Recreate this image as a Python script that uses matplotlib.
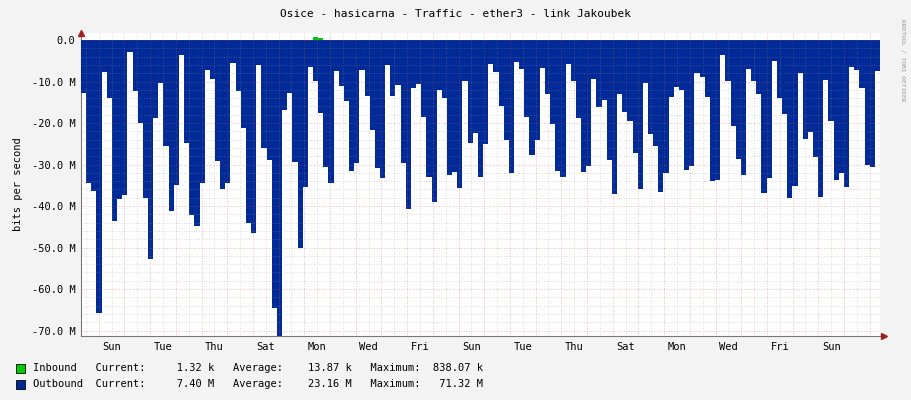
import numpy as np
import matplotlib
matplotlib.use('Agg')
import matplotlib.pyplot as plt

# outbound traffic (Mbit/s, negative = drawn below zero), one value per step
outbound = [-12.7,-34.4,-36.3,-65.7,-7.8,-14,-43.5,-38.3,-37.3,-2.9,-12.3,-19.9,-38,-52.7,-18.8,-10.4,
            -25.5,-41.1,-34.9,-3.5,-24.8,-42.1,-44.7,-34.4,-7.1,-9.4,-29.1,-35.8,-34.4,-5.5,-12.2,-21.1,
            -44,-46.4,-5.9,-25.9,-29,-64.6,-71.3,
            -16.9,-12.7,-29.3,-50,-35.3,-6.4,-9.8,-17.5,-30.5,-34.4,-7.5,-11.1,-14.6,-31.5,-29.6,-7.2,
            -13.5,-21.7,-30.8,-33.3,-6,-13.4,-10.8,-29.6,-40.8,-11.5,-10.6,-18.5,-32.9,-39.1,-12.1,-14,
            -32.4,-31.8,-35.7,-9.9,-24.9,-22.4,-33.1,
            -25,-5.8,-7.6,-15.8,-24.1,-32,-5.4,-6.9,-18.5,-27.6,-24.1,-6.8,-12.9,-20.2,-31.5,-33.1,-5.8,
            -9.9,-18.8,-31.7,-30.3,-9.4,-16.2,-14.5,-29,-37.2,-12.9,-17.3,-19.5,-27.1,-35.9,-10.3,-22.6,
            -25.5,-36.5,-32,-13.7,-11.3,-12,
            -31.2,-30.3,-7.9,-8.8,-13.6,-33.9,-33.7,-3.5,-9.8,-20.6,-28.6,-32.4,-7,-9.9,-12.9,-36.8,-33.2,
            -5,-13.9,-17.9,-38,-35.1,-7.9,-23.9,-22.2,-28.1,-37.8,-9.6,-19.5,-33.6,-32,-35.3,-6.4,-7.1,
            -11.5,-30.2,-30.5,-7.4]
# inbound is ~0 except a small blip
inbound = np.zeros(len(outbound))
inbound[45:47] = [0.8, 0.5]

day_labels = ['Sun','Tue','Thu','Sat','Mon','Wed','Fri','Sun','Tue','Thu','Sat','Mon','Wed','Fri','Sun']
span_days = 31.09      # full width of the graph in days
first_midnight = 0.69  # first day boundary, in days from left edge

out = np.array(outbound)
n = len(out)
edges = np.linspace(0, span_days, n + 1)

fig = plt.figure(figsize=(9.11, 4.0), dpi=100)
fig.patch.set_facecolor('#f3f3f3')
ax = fig.add_axes([81/911, 64/400, 799/911, 303/400])
ax.set_facecolor('white')

ax.stairs(out, edges, baseline=0, fill=True, color='#002a97', zorder=3)
ax.stairs(inbound, edges, baseline=0, fill=True, color='#00cc00', zorder=4)

ax.set_xlim(0, span_days)
ax.set_ylim(-71.3, 1.7)

# grid drawn over the areas like rrdtool: minor 12h / 2M grey, major 1 day / 10M red
mid = np.arange(first_midnight, span_days, 1.0)
halfs = np.arange(first_midnight - 0.5, span_days, 1.0)
dot = (0, (1, 2))
for x in halfs:
    ax.axvline(x, color='#999999', lw=0.6, ls=dot, zorder=5, alpha=0.45)
for y in np.arange(-70, 1, 2):
    if y % 10:
        ax.axhline(y, color='#999999', lw=0.6, ls=dot, zorder=5, alpha=0.45)
for x in mid:
    ax.axvline(x, color='#e05050', lw=0.6, ls=dot, zorder=5, alpha=0.5)
for y in np.arange(-70, 1, 10):
    ax.axhline(y, color='#e05050', lw=0.6, ls=dot, zorder=5, alpha=0.5)

ax.set_xticks([first_midnight + 0.5 + 2 * i for i in range(len(day_labels))])
ax.set_xticklabels(day_labels)
yt = np.arange(0, -71, -10)
ax.set_yticks(yt)
ax.set_yticklabels(['0.0'] + ['%.1f M' % v for v in yt[1:]])
ax.tick_params(labelsize=7.5, length=0, pad=4, colors='#000000')
for lab in ax.get_xticklabels() + ax.get_yticklabels():
    lab.set_family('DejaVu Sans Mono')
for s in ['top', 'right']:
    ax.spines[s].set_visible(False)
for s in ['left', 'bottom']:
    ax.spines[s].set_color('#777777')
ax.set_ylabel('bits per second', fontsize=7.5, family='DejaVu Sans Mono', labelpad=6)

# axis arrows
ax.plot([0], [1.7], marker='^', color='#a02020', ms=4, transform=ax.transData, clip_on=False, zorder=6)
ax.plot([span_days * 1.005], [-71.3], marker='>', color='#a02020', ms=4, clip_on=False, zorder=6)

fig.text(0.5, 1 - 14/400, 'Osice - hasicarna - Traffic - ether3 - link Jakoubek',
         ha='center', va='center', fontsize=8, family='DejaVu Sans Mono')
fig.text(903/911, 1 - 60/400, 'RRDTOOL / TOBI OETIKER', rotation=270, ha='center', va='center',
         fontsize=4.5, color='#999999', family='DejaVu Sans Mono')

fig.patches.append(plt.Rectangle((16/911, 1 - 373/400), 9/911, 9/400, transform=fig.transFigure,
                                 facecolor='#00cc00', edgecolor='black', lw=0.6))
fig.patches.append(plt.Rectangle((16/911, 1 - 389/400), 9/911, 9/400, transform=fig.transFigure,
                                 facecolor='#002a97', edgecolor='black', lw=0.6))
fig.text(33/911, 1 - 368/400, 'Inbound   Current:     1.32 k   Average:    13.87 k   Maximum:  838.07 k',
         va='center', fontsize=7.5, family='DejaVu Sans Mono')
fig.text(33/911, 1 - 384/400, 'Outbound  Current:     7.40 M   Average:    23.16 M   Maximum:   71.32 M',
         va='center', fontsize=7.5, family='DejaVu Sans Mono')

fig.savefig('out.png', dpi=100, facecolor=fig.get_facecolor())
